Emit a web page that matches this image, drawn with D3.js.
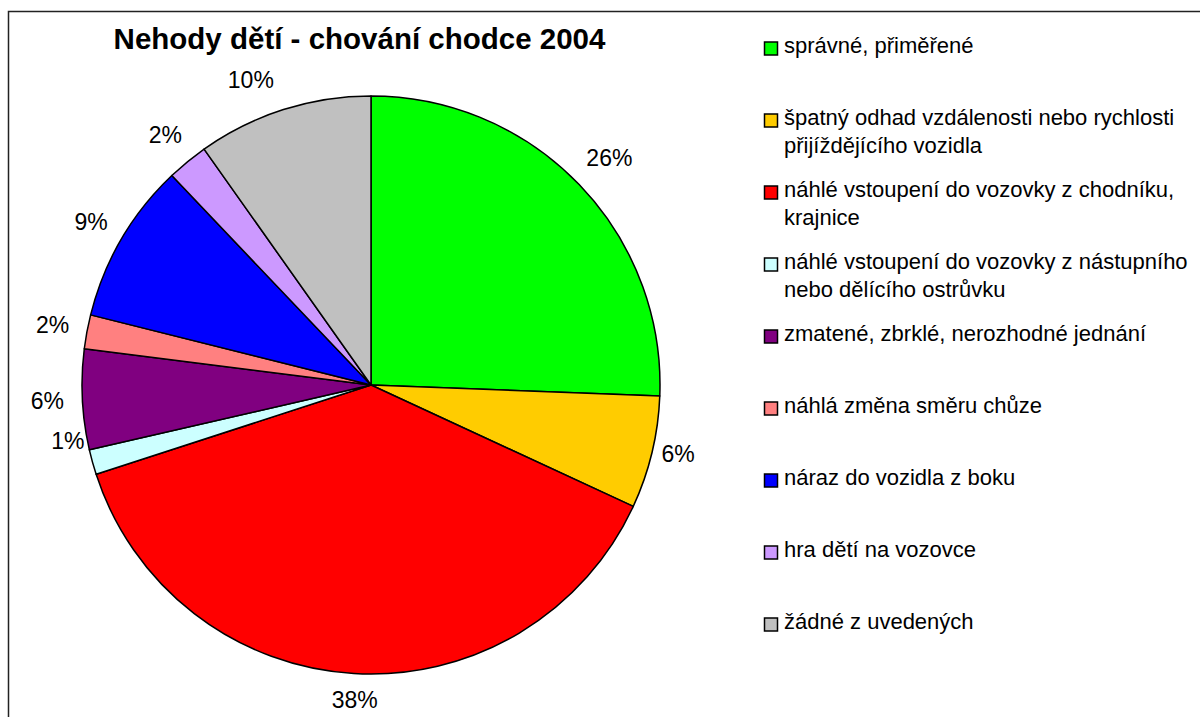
<!DOCTYPE html>
<html>
<head>
<meta charset="utf-8">
<script src="https://cdn.jsdelivr.net/npm/d3@7"></script>
<style>
  body { margin: 0; background: #fff; }
  text { font-family: "Liberation Sans", Arial, sans-serif; }
</style>
</head>
<body>
<div id="chart"></div>
<script>
// chart data
const chartTitle = "Nehody dětí - chování chodce 2004";
const categories = [
  "správné, přiměřené",
  "špatný odhad vzdálenosti nebo rychlosti přijíždějícího vozidla",
  "náhlé vstoupení do vozovky z chodníku, krajnice",
  "náhlé vstoupení do vozovky z nástupního nebo dělícího ostrůvku",
  "zmatené, zbrklé, nerozhodné jednání",
  "náhlá změna směru chůze",
  "náraz do vozidla z boku",
  "hra dětí na vozovce",
  "žádné z uvedených"
];
const values = [25.6, 6.3, 38.1, 1.4, 5.6, 1.9, 9.0, 2.3, 9.8];
const colors = ["#00ff00", "#ffcc00", "#ff0000", "#ccffff", "#800080",
                "#ff8080", "#0000ff", "#cc99ff", "#c0c0c0"];

const width = 1200, height = 717;
const cx = 371, cy = 385, radius = 289;

const svg = d3.select("#chart")
  .append("svg")
  .attr("width", width)
  .attr("height", height);

// outer frame (runs off the right and bottom edge)
svg.append("rect")
  .attr("x", 8.5).attr("y", 11.5)
  .attr("width", 1400).attr("height", 900)
  .attr("fill", "none")
  .attr("stroke", "#222")
  .attr("stroke-width", 1.5);

svg.append("text")
  .attr("x", 359.5).attr("y", 49)
  .attr("text-anchor", "middle")
  .attr("font-size", "29.5px")
  .attr("font-weight", "bold")
  .text(chartTitle);

const data = categories.map((c, i) => ({ name: c, value: values[i], color: colors[i] }));
const total = d3.sum(values);

const pie = d3.pie().sort(null).value(d => d.value);
const arcs = pie(data);

const arc = d3.arc().innerRadius(0).outerRadius(radius);
const labelArc = d3.arc().innerRadius(324).outerRadius(324);

const g = svg.append("g").attr("transform", `translate(${cx},${cy})`);

g.selectAll("path")
  .data(arcs)
  .enter()
  .append("path")
  .attr("d", arc)
  .attr("fill", d => d.data.color)
  .attr("stroke", "#000")
  .attr("stroke-width", 1.5)
  .attr("stroke-linejoin", "round");

// Excel pushed some labels off their radial spot
const labelShift = { 0: [5, -2], 1: [-8, -7], 2: [3, -8], 3: [9, -30], 8: [-22, 4] };

g.selectAll(".pct")
  .data(arcs)
  .enter()
  .append("text")
  .attr("class", "pct")
  .attr("transform", (d, i) => {
    const p = labelArc.centroid(d);
    const s = labelShift[i] || [0, 0];
    return `translate(${p[0] + s[0]},${p[1] + s[1] + 8})`;
  })
  .attr("text-anchor", "middle")
  .attr("font-size", "23px")
  .text(d => Math.round(d.data.value / total * 100) + "%");

// legend
const legend = svg.append("g").attr("transform", "translate(764,0)");
const item = legend.selectAll(".item")
  .data(data)
  .enter()
  .append("g")
  .attr("class", "item")
  .attr("transform", (d, i) => `translate(0,${53 + i * 72})`);

item.append("rect")
  .attr("x", 0.5).attr("y", -11)
  .attr("width", 13).attr("height", 13)
  .attr("fill", d => d.color)
  .attr("stroke", "#000")
  .attr("stroke-width", 1.5);

item.each(function(d) {
  const t = d3.select(this).append("text")
    .attr("x", 20).attr("y", 0)
    .attr("font-size", "22px");
  const words = d.name.split(" ");
  let line = [];
  let tspan = t.append("tspan").attr("x", 20).attr("dy", 0);
  words.forEach(w => {
    line.push(w);
    tspan.text(line.join(" "));
    if (tspan.node().getComputedTextLength() > 405 && line.length > 1) {
      line.pop();
      tspan.text(line.join(" "));
      line = [w];
      tspan = t.append("tspan").attr("x", 20).attr("dy", 28).text(w);
    }
  });
});
</script>
</body>
</html>
